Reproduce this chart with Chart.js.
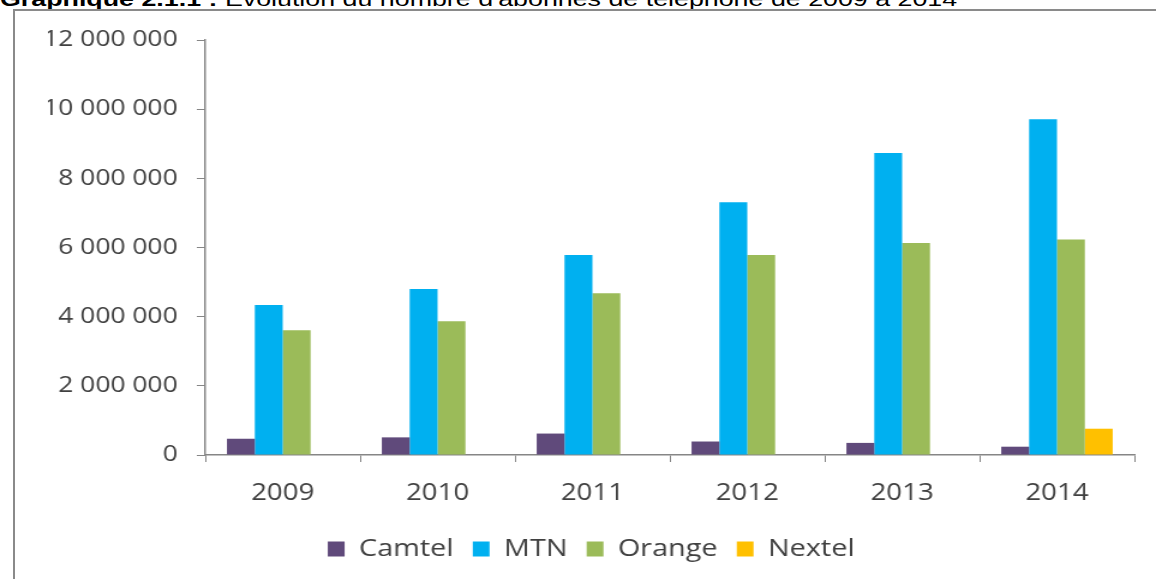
<!DOCTYPE html>
<html lang="fr">
<head>
    <meta charset="UTF-8">
    <title>Abonnés téléphone 2009-2014</title>
    <script src="https://cdn.jsdelivr.net/npm/chart.js"></script>
    <style>
        html, body { margin: 0; padding: 0; background: #fff; overflow: hidden; }
        .page { position: relative; width: 1156px; height: 579px; }
        .titre {
            position: absolute; left: 0; top: -12px; white-space: nowrap;
            font-family: "Liberation Sans", Arial, sans-serif; font-size: 20px; color: #000;
            transform: scaleX(1.34); transform-origin: left top;
        }
        .cadre {
            position: absolute; left: 13px; top: 9px; right: -4px; bottom: -4px;
            border-left: 2px solid #8a8a8a; border-top: 2px solid #8a8a8a;
        }
        #graphique { position: absolute; left: 0; top: 0; }
    </style>
</head>
<body>
<div class="page">
    <div class="titre"><b>Graphique 2.1.1 :</b> Evolution du nombre d'abonnés de téléphone de 2009 à 2014</div>
    <div class="cadre"></div>
    <!-- dessiné plus étroit puis étiré en largeur, comme l'image d'origine -->
    <canvas id="graphique" width="963" height="579" style="width:1156px;height:579px"></canvas>
</div>

<script>
var annees = ['2009', '2010', '2011', '2012', '2013', '2014'];
var camtel = [470000, 510000, 620000, 390000, 350000, 240000];
var mtn    = [4340000, 4800000, 5780000, 7310000, 8730000, 9710000];
var orange = [3610000, 3870000, 4680000, 5780000, 6130000, 6230000];
var nextel = [null, null, null, null, null, 760000];

var yMax = 12000000;
var yPas = 2000000;

var policeTexte = '"Open Sans", "DejaVu Sans", sans-serif';
var gris = '#868686';

function milliers(v) {
    return String(v).replace(/\B(?=(\d{3})+(?!\d))/g, ' ');
}

var data = {
    labels: annees,
    datasets: [
        { label: 'Camtel', data: camtel, backgroundColor: '#604a7b' },
        { label: 'MTN', data: mtn, backgroundColor: '#00b0f0' },
        { label: 'Orange', data: orange, backgroundColor: '#9bbb59' },
        { label: 'Nextel', data: nextel, backgroundColor: '#ffc000' }
    ]
};

var config = {
    type: 'bar',
    data: data,
    options: {
        responsive: false,
        animation: false,
        devicePixelRatio: 1,
        categoryPercentage: 0.72,
        barPercentage: 1,
        // padding gauche pour recentrer la légende, l'axe y compense
        layout: { padding: { left: 40, right: 18, top: 40, bottom: 8 } },
        plugins: {
            tooltip: { enabled: false },
            legend: {
                position: 'bottom',
                labels: {
                    boxWidth: 14,
                    boxHeight: 15,
                    padding: 16,
                    color: '#404040',
                    font: { family: policeTexte, size: 24 }
                }
            }
        },
        scales: {
            x: {
                grid: { drawOnChartArea: false, tickLength: 7, color: gris, offset: true },
                border: { color: gris, width: 1.5 },
                ticks: { color: '#404040', padding: 18, font: { family: policeTexte, size: 23 } },
                afterFit: function (scale) { scale.height = 66; }
            },
            y: {
                min: 0,
                max: yMax,
                grid: { drawOnChartArea: false, tickLength: 7, color: gris },
                border: { color: gris, width: 1.5 },
                ticks: {
                    stepSize: yPas,
                    padding: 16,
                    color: '#404040',
                    font: { family: policeTexte, size: 22 },
                    callback: function (v) { return milliers(v); }
                },
                afterFit: function (scale) { scale.width = 131; }
            }
        }
    }
};

var graphique = new Chart(document.getElementById('graphique'), config);
</script>
</body>
</html>
